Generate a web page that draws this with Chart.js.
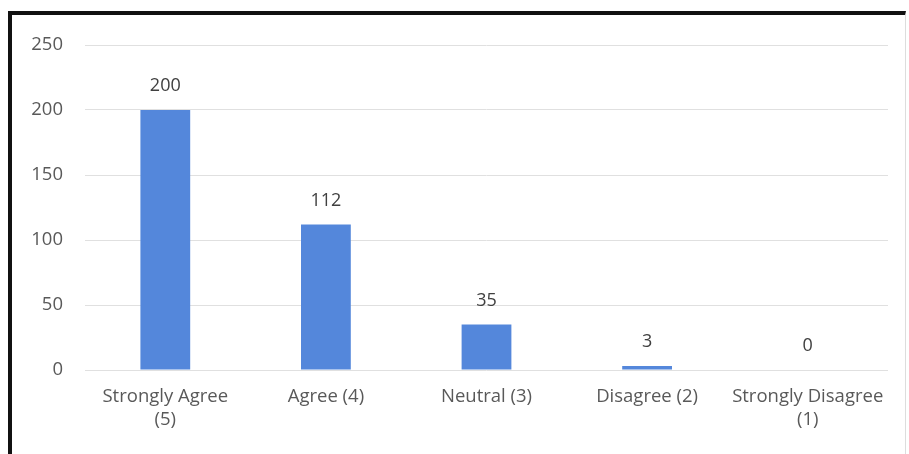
<!DOCTYPE html>
<html>
<head>
<meta charset="utf-8">
<script src="https://cdn.jsdelivr.net/npm/chart.js@4"></script>
<style>
  html, body { margin: 0; padding: 0; background: #fff; }
  #wrap { position: relative; width: 909px; height: 454px; overflow: hidden; }
  #frame {
    position: absolute; left: 8px; top: 11px; width: 898px; height: 460px;
    border-top: 4px solid #111; border-left: 4px solid #111; border-right: 1px solid #ddd;
    box-sizing: border-box; pointer-events: none;
  }
  canvas { position: absolute; left: 0; top: 0; }
</style>
</head>
<body>
<div id="wrap">
  <canvas id="grafico" width="909" height="454"></canvas>
  <div id="frame"></div>
</div>
<script>
var categorias = [['Strongly Agree', '(5)'], 'Agree (4)', 'Neutral (3)', 'Disagree (2)', ['Strongly Disagree', '(1)']];
var respostas = [200, 112, 35, 3, 0];
var ticks_y = [0, 50, 100, 150, 200, 250];

var fonte = "'Open Sans', sans-serif";

// writes the value above each bar
var rotulos = {
  id: 'rotulos',
  afterDatasetsDraw: function(chart){
    var ctx = chart.ctx;
    var meta = chart.getDatasetMeta(0);
    ctx.save();
    ctx.font = '18px ' + fonte;
    ctx.fillStyle = '#404040';
    ctx.textAlign = 'center';
    ctx.textBaseline = 'middle';
    meta.data.forEach(function(bar, i){
      ctx.fillText(String(respostas[i]), bar.x, bar.y - 24);
    });
    ctx.restore();
  }
};

const ctx = document.getElementById('grafico').getContext('2d');

new Chart(ctx, {
  type: 'bar',
  data: {
    labels: categorias,
    datasets: [
      {
        data: respostas,
        backgroundColor: '#5487DB',
        hoverBackgroundColor: '#5487DB',
        categoryPercentage: 1,
        barPercentage: 0.31,
      },
    ],
  },
  options: {
    responsive: false,
    animation: false,
    layout: {
      padding: { left: 0, right: 21, top: 45, bottom: 0 }
    },
    scales: {
      x: {
        grid: { display: false, drawTicks: false },
        border: { display: false },
        ticks: {
          color: '#595959',
          font: { family: fonte, size: 18.5, lineHeight: 1.2 },
          padding: 16,
          maxRotation: 0,
          autoSkip: false,
        },
        afterFit: function(scale){ scale.height = 84; }
      },
      y: {
        min: 0,
        max: 250,
        afterBuildTicks: function(scale){
          scale.ticks = ticks_y.map(function(v){ return { value: v }; });
        },
        grid: { color: '#e0e0e0', drawTicks: false, lineWidth: 1 },
        border: { display: false },
        ticks: {
          color: '#595959',
          font: { family: fonte, size: 18.5 },
          padding: 22,
        },
        afterFit: function(scale){ scale.width = 85; }
      },
    },
    plugins: {
      legend: { display: false },
      tooltip: { enabled: false }
    }
  },
  plugins: [rotulos]
});
</script>
</body>
</html>
